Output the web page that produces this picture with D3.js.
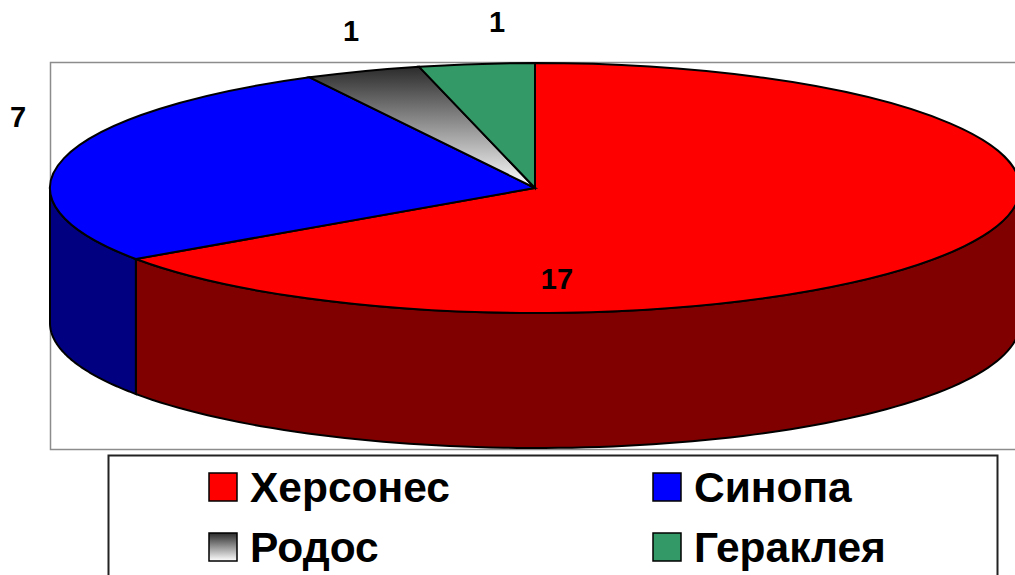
<!DOCTYPE html>
<html>
<head>
<meta charset="utf-8">
<script src="https://cdn.jsdelivr.net/npm/d3@7"></script>
<style>
  html, body { margin: 0; padding: 0; background: #fff; overflow: hidden; }
  text { font-family: "Liberation Sans", Arial, sans-serif; font-weight: bold; fill: #000; }
</style>
</head>
<body>
<svg id="chart" width="1015" height="575"></svg>
<script>
const cities = ["Херсонес", "Синопа", "Родос", "Гераклея"];
const counts = [17, 7, 1, 1];
const topColors = ["#ff0000", "#0000ff", "url(#rhodes)", "#339966"];
const sideColors = ["#800000", "#000080", "#555555", "#1a4d33"];

const width = 1015, height = 575;
const cx = 535, cy = 188, rx = 485, ry = 125, depth = 135;

// label spots by hand, same order as cities
const labelSpots = [[557, 279], [18, 117], [351, 31], [497, 22]];

const svg = d3.select("#chart");

const grad = svg.append("defs").append("linearGradient")
  .attr("id", "rhodes")
  .attr("x1", 0).attr("y1", 0).attr("x2", 0).attr("y2", 1);
grad.append("stop").attr("offset", "0%").attr("stop-color", "#2b2b2b");
grad.append("stop").attr("offset", "100%").attr("stop-color", "#ffffff");

// plot frame, runs off the right side of the page
svg.append("rect")
  .attr("x", 50.5).attr("y", 62.5)
  .attr("width", 1000).attr("height", 387)
  .attr("fill", "#fff")
  .attr("stroke", "#8c8c8c").attr("stroke-width", 1.5);

const pie = d3.pie().sort(null).value(d => d.count);
const slices = pie(cities.map((c, i) => ({ city: c, count: counts[i], idx: i })));

// front wall of the disc, only the part between 90 and 270 deg shows
const wall = d3.area()
  .x(a => cx + rx * Math.sin(a))
  .y0(a => cy - ry * Math.cos(a))
  .y1(a => cy - ry * Math.cos(a) + depth);

slices.forEach(s => {
  const from = Math.max(s.startAngle, Math.PI / 2);
  const to = Math.min(s.endAngle, 3 * Math.PI / 2);
  if (to <= from) return;
  const n = 90;
  const angles = d3.range(n + 1).map(i => from + (to - from) * i / n);
  svg.append("path")
    .attr("d", wall(angles) + "Z")
    .attr("fill", sideColors[s.data.idx])
    .attr("stroke", "#000").attr("stroke-width", 2);
});

// top face: circular arc squashed into an ellipse
const arc = d3.arc().innerRadius(0).outerRadius(rx);
svg.append("g")
  .attr("transform", `translate(${cx},${cy}) scale(1,${ry / rx})`)
  .selectAll("path")
  .data(slices)
  .join("path")
  .attr("d", arc)
  .attr("fill", d => topColors[d.data.idx])
  .attr("stroke", "#000")
  .attr("stroke-width", 2)
  .attr("vector-effect", "non-scaling-stroke");

svg.append("g").selectAll("text")
  .data(slices)
  .join("text")
  .attr("x", d => labelSpots[d.data.idx][0])
  .attr("y", d => labelSpots[d.data.idx][1])
  .attr("text-anchor", "middle")
  .attr("dominant-baseline", "central")
  .attr("font-size", 29)
  .text(d => d.data.count);

// legend box, bottom is cut off by the page
svg.append("rect")
  .attr("x", 108.5).attr("y", 455.5)
  .attr("width", 889).attr("height", 140)
  .attr("fill", "#fff")
  .attr("stroke", "#222").attr("stroke-width", 2);

const colX = d3.scalePoint().domain([0, 1]).range([209, 653]);
const rowY = d3.scalePoint().domain([0, 1]).range([473, 533]);

const legend = svg.append("g").selectAll("g")
  .data(cities)
  .join("g")
  .attr("transform", (d, i) => `translate(${colX(i % 2)},${rowY(Math.floor(i / 2))})`);

legend.append("rect")
  .attr("width", 28).attr("height", 28)
  .attr("fill", (d, i) => topColors[i])
  .attr("stroke", "#000").attr("stroke-width", 1.5);

legend.append("text")
  .attr("x", 41)
  .attr("y", 29)
  .attr("font-size", 42.5)
  .text(d => d);
</script>
</body>
</html>
